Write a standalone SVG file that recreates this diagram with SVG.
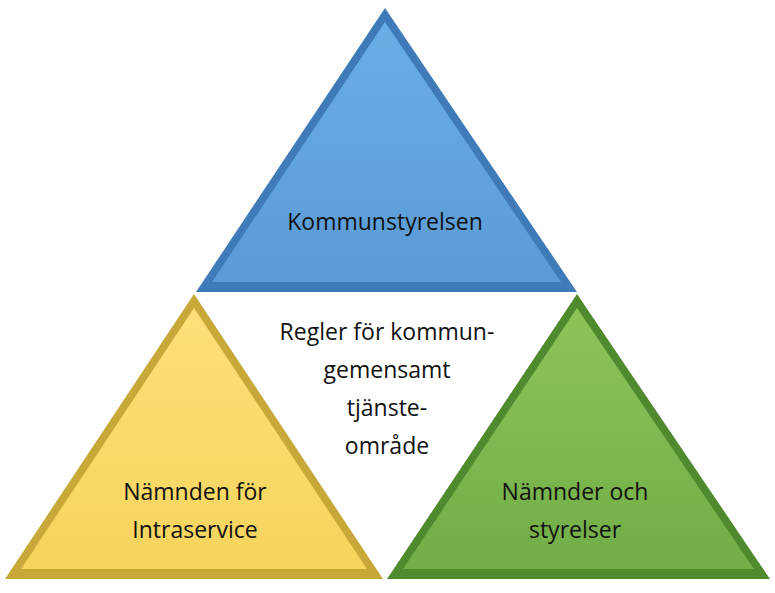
<svg xmlns="http://www.w3.org/2000/svg" width="775" height="593" viewBox="0 0 775 593">
<defs>
<linearGradient id="gb" x1="0" y1="0" x2="0" y2="1"><stop offset="0" stop-color="#6aaee6"/><stop offset="1" stop-color="#5b9bd5"/></linearGradient>
<linearGradient id="gy" x1="0" y1="0" x2="0" y2="1"><stop offset="0" stop-color="#ffe07a"/><stop offset="1" stop-color="#f5d45c"/></linearGradient>
<linearGradient id="gg" x1="0" y1="0" x2="0" y2="1"><stop offset="0" stop-color="#8cc45a"/><stop offset="1" stop-color="#72ad47"/></linearGradient>
</defs>
<style>
text{font-family:"Open Sans","Liberation Sans",sans-serif;font-size:23px;fill:#111;text-anchor:middle}
</style>
<rect width="775" height="593" fill="#fff"/>
<g id="blue">
<polygon points="385,8 196,292 577,292" fill="#3f7bb8"/>
<polygon points="385,22 212,282 561,282" fill="url(#gb)"/>
<text x="385" y="230">Kommunstyrelsen</text>
</g>
<g id="yellow">
<polygon points="194,294 5,579 383,579" fill="#c9a83a"/>
<polygon points="194,308 21,569 367,569" fill="url(#gy)"/>
<text x="195" y="500">Nämnden för</text>
<text x="195" y="538">Intraservice</text>
</g>
<g id="green">
<polygon points="577,294 387,579 770,579" fill="#4f8a2e"/>
<polygon points="577,308 403,569 754,569" fill="url(#gg)"/>
<text x="575" y="500">Nämnder och</text>
<text x="575" y="538">styrelser</text>
</g>
<g id="center">
<text x="387" y="340">Regler för kommun-</text>
<text x="387" y="378">gemensamt</text>
<text x="387" y="416">tjänste-</text>
<text x="387" y="454">område</text>
</g>
<g id="connectors"/>
</svg>
